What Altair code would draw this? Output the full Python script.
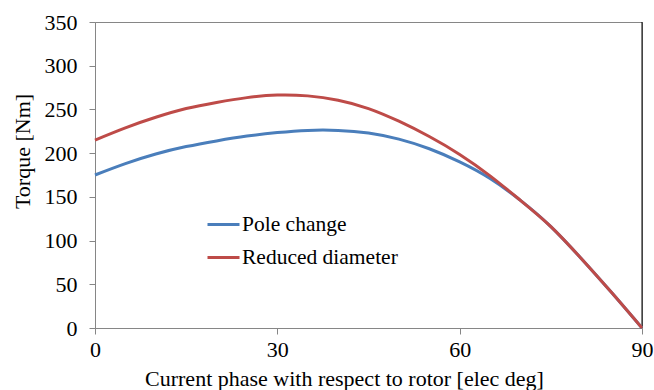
import altair as alt
import pandas as pd

angles = [0, 5, 10, 15, 20, 25, 30, 35, 40, 45, 50, 55, 60, 65, 70, 75, 80, 85, 90]
pole_change = [175, 188, 199, 207.5, 214, 219.5, 223.5, 226, 226, 223, 216, 205, 190, 171, 146, 116, 79.5, 40.5, 0]
reduced_diameter = [215, 229, 241, 251, 258, 263.5, 266.5, 265.5, 260.5, 251, 236.5, 219, 198.5, 174, 146, 116, 79.5, 40.5, 0]
series_names = ["Pole change", "Reduced diameter"]
x_ticks = [0, 30, 60, 90]
y_ticks = [0, 50, 100, 150, 200, 250, 300, 350]

rows = []
for a, v in zip(angles, pole_change):
    rows.append({"angle": a, "torque": v, "series": series_names[0]})
for a, v in zip(angles, reduced_diameter):
    rows.append({"angle": a, "torque": v, "series": series_names[1]})
df = pd.DataFrame(rows)

FONT = "Liberation Serif"
GRAY = "#868686"
FS = 22

common_axis = dict(grid=False, domainColor=GRAY, tickColor=GRAY, tickSize=6,
                   labelFont=FONT, titleFont=FONT, labelFontSize=FS, titleFontSize=FS,
                   labelColor="black", titleColor="black", titleFontWeight="normal",
                   labelFlush=False)

lines = alt.Chart(df).mark_line(strokeWidth=3, interpolate="natural").encode(
    x=alt.X("angle:Q", scale=alt.Scale(domain=[0, 90], nice=False),
            axis=alt.Axis(values=x_ticks, title="Current phase with respect to rotor [elec deg]",
                          labelPadding=5, titleX=249, titleY=57, titleBaseline="alphabetic",
                          titleAlign="center", **common_axis)),
    y=alt.Y("torque:Q", scale=alt.Scale(domain=[0, 350], nice=False),
            axis=alt.Axis(values=y_ticks, title="Torque [Nm]", labelPadding=12,
                          titleX=-66, titleY=129, titleAngle=-90, titleAlign="center",
                          titleBaseline="alphabetic", **common_axis)),
    color=alt.Color("series:N", scale=alt.Scale(domain=series_names, range=["#4a7ebb", "#be4b48"]),
                    legend=alt.Legend(title=None, orient="none", legendX=111, legendY=185,
                                      symbolType="stroke", symbolSize=1024, symbolStrokeWidth=3,
                                      labelFontSize=21.5, labelFont=FONT, labelColor="black",
                                      rowPadding=5, labelOffset=1, labelLimit=400)),
)

right_border = alt.Chart(pd.DataFrame({"x": [90]})).mark_rule(color="black", strokeWidth=1).encode(
    x=alt.X("x:Q"),
)

chart = alt.layer(right_border, lines).properties(
    width=547, height=306,
    autosize=alt.AutoSizeParams(type="none"),
    padding={"left": 95, "top": 22, "right": 12, "bottom": 62},
    background="white",
).configure_view(stroke=GRAY, strokeWidth=1)

chart.save("out.html", embed_options={"renderer": "svg", "actions": False})
